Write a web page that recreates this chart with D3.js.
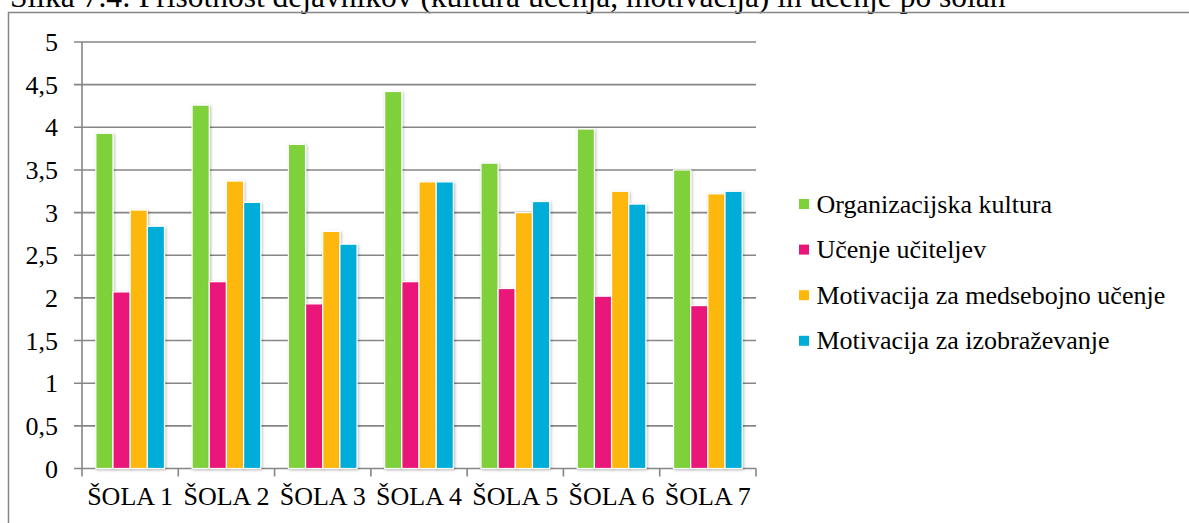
<!DOCTYPE html>
<html>
<head>
<meta charset="utf-8">
<script src="https://cdn.jsdelivr.net/npm/d3@7"></script>
<style>
  html, body { margin: 0; padding: 0; background: #fff; overflow: hidden; }
  text { font-family: "Liberation Serif", "Times New Roman", serif; fill: #000; }
</style>
</head>
<body>
<svg id="chart" width="1189" height="523"></svg>
<script>
// Data
const schools = ["ŠOLA 1", "ŠOLA 2", "ŠOLA 3", "ŠOLA 4", "ŠOLA 5", "ŠOLA 6", "ŠOLA 7"];
const seriesNames = ["Organizacijska kultura", "Učenje učiteljev", "Motivacija za medsebojno učenje", "Motivacija za izobraževanje"];
const organizacijskaKultura = [3.93, 4.26, 3.80, 4.42, 3.58, 3.98, 3.50];
const ucenjeUciteljev = [2.07, 2.19, 1.93, 2.19, 2.11, 2.02, 1.91];
const motivacijaMedsebojno = [3.03, 3.37, 2.78, 3.36, 3.00, 3.25, 3.22];
const motivacijaIzobrazevanje = [2.84, 3.12, 2.63, 3.36, 3.13, 3.10, 3.25];
const yTicks = [0, 0.5, 1, 1.5, 2, 2.5, 3, 3.5, 4, 4.5, 5];
const titleText = "Slika 7.4: Prisotnost dejavnikov (kultura učenja, motivacija) in učenje po šolah";

const seriesValues = [organizacijskaKultura, ucenjeUciteljev, motivacijaMedsebojno, motivacijaIzobrazevanje];
const colors = ["#7fd13b", "#ea157a", "#feb80a", "#00add8"];
const gridColor = "#868686";
const fontSize = 26;

const svg = d3.select("#chart");

// Drop shadow for the bars
const defs = svg.append("defs");
const f = defs.append("filter").attr("id", "barShadow")
  .attr("x", "-30%").attr("y", "-5%").attr("width", "160%").attr("height", "110%");
f.append("feDropShadow").attr("dx", 1).attr("dy", 1).attr("stdDeviation", 1.6)
  .attr("flood-color", "#000").attr("flood-opacity", 0.28);

// Caption above the frame
svg.append("text")
  .attr("x", 10).attr("y", 7)
  .style("font-size", "31.5px")
  .text(titleText);

// Frame
svg.append("rect")
  .attr("x", 8.5).attr("y", 12.5)
  .attr("width", 1200).attr("height", 530)
  .attr("fill", "none").attr("stroke", gridColor).attr("stroke-width", 1.5);

const plot = { left: 82, right: 756, top: 42, bottom: 468.5 };

const x0 = d3.scaleBand().domain(schools)
  .range([plot.left, plot.right])
  .paddingInner(0.287).paddingOuter(0.1435);
const x1 = d3.scaleBand().domain(d3.range(seriesNames.length))
  .range([0, x0.bandwidth()]);
const y = d3.scaleLinear().domain([0, 5]).range([plot.bottom, plot.top]);

const fmt = d => String(d).replace(".", ",");

// Horizontal gridlines with left tick marks
svg.append("g").selectAll("line").data(yTicks).join("line")
  .attr("x1", plot.left - 8).attr("x2", plot.right)
  .attr("y1", d => y(d)).attr("y2", d => y(d))
  .attr("stroke", gridColor).attr("stroke-width", 1.6);

// Y axis line
svg.append("line")
  .attr("x1", plot.left).attr("x2", plot.left)
  .attr("y1", plot.top).attr("y2", plot.bottom)
  .attr("stroke", gridColor).attr("stroke-width", 1.6);

// Category boundary ticks below the baseline
const boundaries = schools.map(s => x0(s) - x0.step() * x0.paddingOuter()).concat([plot.right]);
svg.append("g").selectAll("line").data(boundaries).join("line")
  .attr("x1", d => d).attr("x2", d => d)
  .attr("y1", plot.bottom).attr("y2", plot.bottom + 8)
  .attr("stroke", gridColor).attr("stroke-width", 1.6);

// Y tick labels
svg.append("g").selectAll("text").data(yTicks).join("text")
  .attr("x", 58).attr("y", d => y(d) + 9)
  .attr("text-anchor", "end")
  .style("font-size", fontSize + "px")
  .text(fmt);

// Bars
const groups = svg.append("g").selectAll("g").data(schools).join("g")
  .attr("transform", s => `translate(${x0(s)},0)`);
groups.selectAll("rect")
  .data((s, i) => seriesValues.map((vals, k) => ({ k, v: vals[i] })))
  .join("rect")
  .attr("x", d => x1(d.k))
  .attr("width", x1.bandwidth())
  .attr("y", d => y(d.v))
  .attr("height", d => y(0) - y(d.v))
  .attr("fill", d => colors[d.k])
  .attr("stroke", "#fff").attr("stroke-width", 1.2)
  .attr("filter", "url(#barShadow)");

// X labels
svg.append("g").selectAll("text").data(schools).join("text")
  .attr("x", s => x0(s) + x0.bandwidth() / 2).attr("y", 505)
  .attr("text-anchor", "middle")
  .style("font-size", fontSize + "px")
  .text(s => s);

// Legend
const legendY = [204, 249.6, 295.2, 340.8];
const legend = svg.append("g").selectAll("g").data(seriesNames).join("g")
  .attr("transform", (d, i) => `translate(799,${legendY[i]})`);
legend.append("rect")
  .attr("x", 0).attr("y", -5).attr("width", 10).attr("height", 10)
  .attr("fill", (d, i) => colors[i]);
legend.append("text")
  .attr("x", 17.5).attr("y", 8.5)
  .style("font-size", fontSize + "px")
  .text(d => d);
</script>
</body>
</html>
